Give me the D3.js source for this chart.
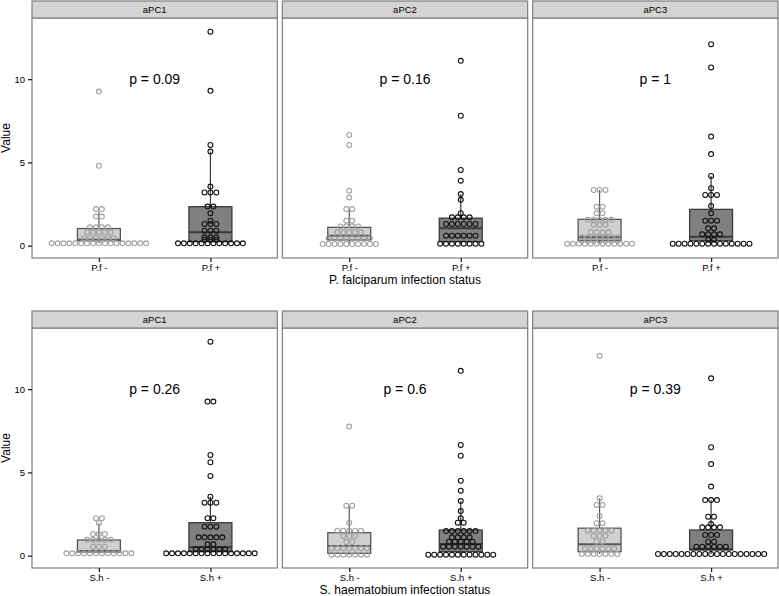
<!DOCTYPE html>
<html lang="en">
<head>
    <meta charset="UTF-8">
    <title>Antibody value by infection status</title>
    <script src="https://d3js.org/d3.v7.min.js"></script>
    <style>
        body {
            margin: 0;
            padding: 0;
            background-color: white;
            font-family: 'Liberation Sans', Arial, sans-serif;
        }
        svg { display: block; }
    </style>
</head>
<body>
    <svg width="779" height="596"></svg>

    <script>
        // ---- data ----
        const panels = ["aPC1", "aPC2", "aPC3"];
        const pfGroups = ["P.f -", "P.f +"];
        const shGroups = ["S.h -", "S.h +"];
        const pfTitle = "P. falciparum infection status";
        const shTitle = "S. haematobium infection status";
        const pfPvalues = ["p = 0.09", "p = 0.16", "p = 1"];
        const shPvalues = ["p = 0.26", "p = 0.6", "p = 0.39"];
        const yTicks = [0, 5, 10];

        // dot bins: [value, number of dots stacked in that bin], one list per panel
        const pfNegDots = [
            [[0.14,17],[0.45,6],[0.8,5],[1.1,4],[1.75,2],[2.2,2],[4.8,1],[9.25,1]],
            [[0.1,10],[0.45,8],[0.8,5],[1.15,4],[1.5,2],[2.2,2],[2.9,1],[3.3,1],[6.05,1],[6.65,1]],
            [[0.12,12],[0.3,7],[0.5,7],[0.8,4],[1.25,3],[1.55,5],[1.94,2],[2.34,2],[3.35,3]]
        ];
        const pfPosDots = [
            [[0.14,12],[0.35,3],[0.5,3],[0.9,3],[1.3,3],[1.5,1],[1.95,1],[2.35,2],[3.2,3],[3.55,1],[5.65,1],[6.05,1],[9.3,1],[12.85,1]],
            [[0.12,8],[0.6,6],[1.3,6],[1.7,4],[1.95,1],[2.75,1],[3.1,1],[3.9,1],[4.55,1],[7.8,1],[11.1,1]],
            [[0.12,14],[0.35,2],[0.68,4],[1.04,2],[1.5,3],[1.94,1],[2.38,1],[3.05,3],[3.45,1],[4.19,1],[5.5,1],[6.55,1],[10.7,1],[12.1,1]]
        ];
        const shNegDots = [
            [[0.14,12],[0.54,3],[0.95,5],[1.3,3],[1.95,1],[2.25,2]],
            [[0.06,7],[0.44,7],[0.82,2],[1.18,3],[1.5,5],[1.98,1],[3.0,2],[7.75,1]],
            [[0.1,7],[0.42,6],[0.84,2],[1.18,3],[1.5,5],[1.95,2],[2.38,1],[3.05,2],[3.45,1],[12.0,1]]
        ];
        const shPosDots = [
            [[0.14,16],[0.4,6],[0.68,2],[1.1,5],[1.74,3],[2.25,2],[3.18,3],[3.54,1],[4.79,1],[5.61,1],[6.05,1],[9.25,2],[12.85,1]],
            [[0.06,12],[0.54,7],[0.84,5],[1.1,4],[1.48,6],[1.98,2],[2.25,1],[2.68,1],[3.28,1],[3.9,1],[4.5,1],[6.0,1],[6.65,1],[11.1,1]],
            [[0.1,19],[0.54,6],[0.84,2],[1.24,3],[1.7,4],[1.9,1],[2.34,2],[3.34,3],[4.15,1],[5.5,1],[6.51,1],[10.65,1]]
        ];

        // boxplot stats: [lower whisker, q1, median, q3, upper whisker]
        const pfNegBox = [[0.14,0.3,0.35,1.03,2.05], [0.1,0.34,0.6,1.1,2.2], [0.12,0.3,0.5,1.58,3.35]];
        const pfPosBox = [[0.14,0.24,0.8,2.34,5.65], [0.12,0.24,1.05,1.65,3.1], [0.12,0.3,0.54,2.18,4.19]];
        const shNegBox = [[0.14,0.22,0.28,0.94,1.95], [0.06,0.14,0.58,1.38,3.0], [0.1,0.24,0.68,1.65,3.45]];
        const shPosBox = [[0.14,0.24,0.5,1.98,3.54], [0.06,0.24,0.7,1.54,3.28], [0.1,0.34,0.38,1.54,3.34]];

        // ---- layout ----
        const svg = d3.select("svg");
        const panelLeft = 32, panelRight = 778, panelGap = 5;
        const panelW = (panelRight - panelLeft - 2 * panelGap) / 3;
        const stripH = 17, plotH = 240;
        const rowTops = [1, 311];
        const fontFam = "'Liberation Sans', Arial, sans-serif";

        const negStyle = {fill: "#d0d0d0", line: "#555555", dot: "#a0a0a0"};
        const posStyle = {fill: "#808080", line: "#3a3a3a", dot: "#111111"};
        const dotStep = 5.9, dotR = 2.45;

        const rows = [
            {groups: pfGroups, title: pfTitle, pvals: pfPvalues, dots: [pfNegDots, pfPosDots], boxes: [pfNegBox, pfPosBox]},
            {groups: shGroups, title: shTitle, pvals: shPvalues, dots: [shNegDots, shPosDots], boxes: [shNegBox, shPosBox]}
        ];

        rows.forEach((row, ri) => {
            const stripTop = rowTops[ri];
            const plotTop = stripTop + stripH;
            const plotBottom = plotTop + plotH;

            const y = d3.scaleLinear().domain([-0.74, 13.67]).range([plotBottom, plotTop]);

            panels.forEach((pname, pi) => {
                const x0 = panelLeft + pi * (panelW + panelGap);
                const x = d3.scalePoint().domain(row.groups).range([x0, x0 + panelW]).padding(0.6);
                const boxW = x.step() * 0.385;
                const g = svg.append("g");

                g.append("rect")
                    .attr("x", x0).attr("y", plotTop)
                    .attr("width", panelW).attr("height", plotH)
                    .attr("fill", "white");

                row.groups.forEach((grp, gi) => {
                    const st = gi === 0 ? negStyle : posStyle;
                    const b = row.boxes[gi][pi];
                    const cx = x(grp);

                    // whiskers
                    g.append("line")
                        .attr("x1", cx).attr("x2", cx)
                        .attr("y1", y(b[3])).attr("y2", y(b[4]))
                        .attr("stroke", st.line).attr("stroke-width", 1.2);
                    g.append("line")
                        .attr("x1", cx).attr("x2", cx)
                        .attr("y1", y(b[0])).attr("y2", y(b[1]))
                        .attr("stroke", st.line).attr("stroke-width", 1.2);

                    // box
                    g.append("rect")
                        .attr("x", cx - boxW / 2).attr("y", y(b[3]))
                        .attr("width", boxW).attr("height", y(b[1]) - y(b[3]))
                        .attr("fill", st.fill)
                        .attr("stroke", st.line).attr("stroke-width", 1.3);
                    g.append("line")
                        .attr("x1", cx - boxW / 2).attr("x2", cx + boxW / 2)
                        .attr("y1", y(b[2])).attr("y2", y(b[2]))
                        .attr("stroke", st.line).attr("stroke-width", 2);

                    // centred dot stacks
                    const pts = [];
                    row.dots[gi][pi].forEach(([v, n]) => {
                        for (let k = 0; k < n; k++) {
                            pts.push({v: v, off: (k - (n - 1) / 2) * dotStep});
                        }
                    });
                    g.selectAll(null)
                        .data(pts)
                        .enter().append("circle")
                        .attr("cx", d => cx + d.off)
                        .attr("cy", d => y(d.v))
                        .attr("r", dotR)
                        .attr("fill", "none")
                        .attr("stroke", st.dot)
                        .attr("stroke-width", 1.1);
                });

                // p value
                g.append("text")
                    .attr("x", (x(row.groups[0]) + x(row.groups[1])) / 2)
                    .attr("y", y(10))
                    .attr("dy", "0.35em")
                    .attr("text-anchor", "middle")
                    .attr("font-size", 14)
                    .attr("fill", "#000")
                    .text(row.pvals[pi]);

                // panel frame
                g.append("rect")
                    .attr("x", x0).attr("y", plotTop)
                    .attr("width", panelW).attr("height", plotH)
                    .attr("fill", "none")
                    .attr("stroke", "#7f7f7f").attr("stroke-width", 1.2);

                // strip
                g.append("rect")
                    .attr("x", x0).attr("y", stripTop)
                    .attr("width", panelW).attr("height", stripH)
                    .attr("fill", "#d4d4d4")
                    .attr("stroke", "#7f7f7f").attr("stroke-width", 1.2);
                g.append("text")
                    .attr("x", x0 + panelW / 2)
                    .attr("y", stripTop + stripH / 2)
                    .attr("dy", "0.35em")
                    .attr("text-anchor", "middle")
                    .attr("font-size", 9.5)
                    .attr("fill", "#000")
                    .text(pname);

                // x axis
                const xAxis = g.append("g")
                    .attr("transform", `translate(0,${plotBottom})`)
                    .call(d3.axisBottom(x).tickSize(4).tickPadding(2));
                xAxis.select(".domain").remove();
                xAxis.selectAll("line").attr("stroke", "#222").attr("stroke-width", 1.3);
                xAxis.selectAll("text")
                    .attr("font-size", 9.5).attr("fill", "#000")
                    .attr("font-family", fontFam);

                // y axis on first panel only
                if (pi === 0) {
                    const yAxis = g.append("g")
                        .attr("transform", `translate(${x0},0)`)
                        .call(d3.axisLeft(y).tickValues(yTicks).tickSize(4).tickPadding(3));
                    yAxis.select(".domain").remove();
                    yAxis.selectAll("line").attr("stroke", "#222").attr("stroke-width", 1.3);
                    yAxis.selectAll("text")
                        .attr("font-size", 9.5).attr("fill", "#000")
                        .attr("font-family", fontFam);
                }
            });

            // axis titles
            svg.append("text")
                .attr("x", (panelLeft + panelRight) / 2)
                .attr("y", plotBottom + 26)
                .attr("text-anchor", "middle")
                .attr("font-size", 12)
                .attr("fill", "#000")
                .text(row.title);

            svg.append("text")
                .attr("transform", `translate(10,${(plotTop + plotBottom) / 2}) rotate(-90)`)
                .attr("text-anchor", "middle")
                .attr("font-size", 12)
                .attr("fill", "#000")
                .text("Value");
        });
    </script>
</body>
</html>
